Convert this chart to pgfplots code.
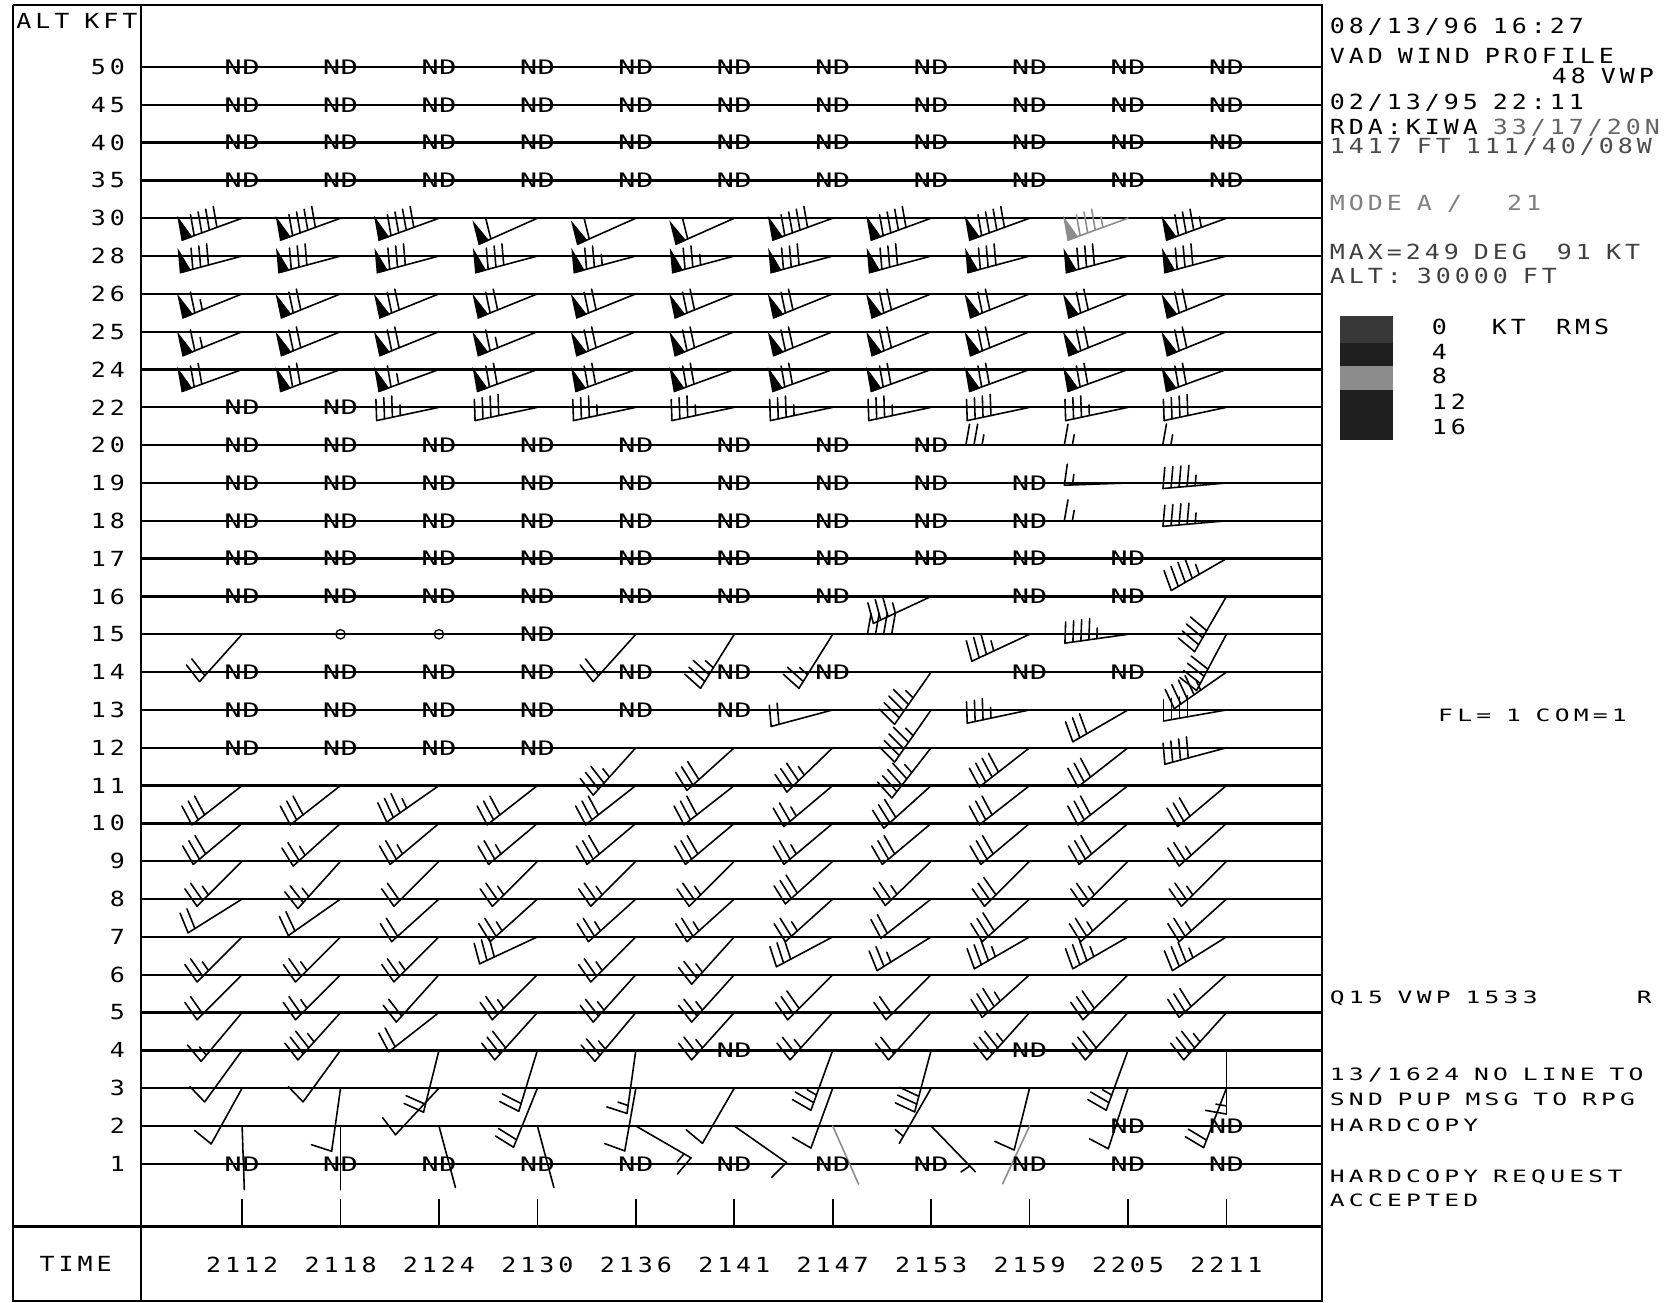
\documentclass[border=0pt]{standalone}
\usepackage{pgfplots}
\pgfplotsset{compat=1.18}
\usepackage{pgfplotstable}
\usepackage{fontspec}
\newfontfamily\plotfont[FakeStretch=1.2,LetterSpace=19]{DejaVu Sans Mono}
\newfontfamily\plotfontb[FakeStretch=1.45,LetterSpace=25]{DejaVu Sans Mono}
\newfontfamily\plotfontnd[FakeStretch=1.45,LetterSpace=2]{DejaVu Sans Mono}
\newcommand\pf{\plotfont\fontsize{9.8}{11}\selectfont}
\newcommand\pfb{\plotfontb\fontsize{8}{9}\selectfont}
\newcommand\ndf{\plotfontnd\fontsize{9.4}{10}\selectfont}
\newcommand\spc{\hphantom{0}}

\newcommand\barbL{30}
\newcommand\barbF{10}
\newcommand\barbS{3.8}
\newcommand\barbP{4.5}
\newcommand\barbA{-100}

\pgfplotsset{
  barb/.style={
    only marks, scatter, mark=*, mark size=0pt,
    visualization depends on={\thisrow{dir}\as\wdir},
    visualization depends on={\thisrow{spd}\as\wspd},
    scatter/@pre marker code/.code={%
      \pgfmathsetmacro\bang{90-\wdir}%
      \pgfmathsetmacro\fang{90-\wdir+\barbA}%
      \pgfmathtruncatemacro\bsp{5*round(\wspd/5)}%
      \pgfmathtruncatemacro\bnp{floor(\bsp/50)}%
      \pgfmathtruncatemacro\bnf{floor((\bsp-50*\bnp)/10)}%
      \pgfmathtruncatemacro\bnh{\bsp-50*\bnp-10*\bnf}%
      \begin{scope}[line width=0.75pt, line cap=round, draw=#1, fill=#1]
        \draw (0pt,0pt) -- (\bang:\barbL pt);
        \ifnum\bnp>0
          \foreach \k in {1,...,\bnp}{%
            \pgfmathsetmacro\q{\barbL-(\k-1)*\barbP}%
            \pgfmathsetmacro\qq{\q-\barbP}%
            \fill (\bang:\q pt) -- ++(\fang:\barbF pt) -- (\bang:\qq pt) -- cycle;
          }%
        \fi
        \pgfmathsetmacro\qs{\barbL-\bnp*\barbP-(\bnp>0?1.5:0)}%
        \ifnum\bnf>0
          \foreach \k in {1,...,\bnf}{%
            \pgfmathsetmacro\q{\qs-(\k-1)*\barbS}%
            \draw (\bang:\q pt) -- ++(\fang:\barbF pt);
          }%
        \fi
        \ifnum\bnh>0
          \pgfmathsetmacro\q{\qs-\bnf*\barbS-(\bnf+\bnp>0?0:\barbS)}%
          \pgfmathsetmacro\hf{0.5*\barbF}%
          \draw (\bang:\q pt) -- ++(\fang:\hf pt);
        \fi
      \end{scope}
    },
    scatter/@post marker code/.code={},
  },
}

\pgfplotstableread{
c lev dir spd
0 25 250 90
1 25 250 90
2 25 250 90
3 25 246 60
4 25 246 60
5 25 246 60
6 25 250 90
7 25 250 90
8 25 250 90
10 25 250 85
0 24 255 80
1 24 255 80
2 24 255 80
3 24 255 80
4 24 255 75
5 24 255 75
6 24 255 80
7 24 255 80
8 24 255 80
9 24 255 80
10 24 255 80
0 23 248 65
1 23 248 70
2 23 248 70
3 23 248 70
4 23 248 70
5 23 248 70
6 23 248 70
7 23 248 70
8 23 248 70
9 23 248 70
10 23 248 70
0 22 248 65
1 22 248 70
2 22 248 70
3 22 248 65
4 22 248 70
5 22 248 70
6 22 248 70
7 22 248 70
8 22 248 70
9 22 248 70
10 22 248 70
0 21 250 70
1 21 250 70
2 21 250 65
3 21 250 70
4 21 250 70
5 21 250 70
6 21 250 70
7 21 250 70
8 21 250 70
9 21 250 70
10 21 250 70
2 20 258 35
3 20 258 40
4 20 258 35
5 20 258 35
6 20 258 35
7 20 258 35
8 20 258 40
9 20 258 35
10 20 258 40
8 19 270 25
9 19 270 15
10 19 270 15
9 18 268 15
10 18 265 45
9 17 270 15
10 17 265 45
10 16 240 45
7 15 245 35
10 15 210 40
0 14 222 20
4 14 222 20
5 14 212 35
6 14 212 25
7 14 270 40
8 14 245 35
9 14 262 45
10 14 208 40
7 13 215 45
10 13 235 45
6 12 255 20
7 12 215 45
8 12 258 35
9 12 240 30
10 12 260 40
4 11 222 35
5 11 228 30
6 11 226 35
7 11 218 45
8 11 232 40
9 11 232 30
10 11 255 40
0 10 232 30
1 10 232 30
2 10 235 35
3 10 232 30
4 10 232 30
5 10 232 30
6 10 230 25
7 10 228 30
8 10 232 30
9 10 232 30
10 10 230 30
0 9 230 30
1 9 228 25
2 9 230 25
3 9 230 25
4 9 230 30
5 9 230 30
6 9 230 25
7 9 230 30
8 9 230 30
9 9 230 30
10 9 228 25
0 8 225 25
1 8 222 25
2 8 225 20
3 8 225 25
4 8 225 25
5 8 225 25
6 8 228 30
7 8 226 25
8 8 225 30
9 8 225 25
10 8 225 25
0 7 238 20
1 7 235 20
2 7 228 20
3 7 228 25
4 7 228 25
5 7 228 25
6 7 228 25
7 7 232 20
8 7 228 30
9 7 228 25
10 7 228 25
0 6 225 25
1 6 225 25
2 6 225 25
3 6 245 30
4 6 225 25
5 6 222 25
6 6 242 30
7 6 238 25
8 6 240 35
9 6 240 35
10 6 238 35
0 5 225 20
1 5 225 25
2 5 222 20
3 5 225 25
4 5 222 25
5 5 222 25
6 5 225 30
7 5 225 20
8 5 228 35
9 5 225 30
10 5 228 30
0 4 220 15
1 4 222 35
2 4 232 20
3 4 222 30
4 4 220 25
5 4 222 25
6 4 222 25
7 4 222 20
8 4 222 35
9 4 222 30
10 4 222 35
0 3 216 10
1 3 216 10
2 3 194 20
3 3 197 20
4 3 188 15
6 3 200 25
7 3 195 30
9 3 200 25
10 3 180 15
0 2 209 10
1 2 188 10
2 2 223 10
3 2 202 20
4 2 190 10
5 2 210 10
6 2 200 10
7 2 210 5
8 2 194 10
9 2 198 10
10 2 201 20
0 1 178 0
1 1 180 0
2 1 165 0
3 1 165 0
4 1 120 15
5 1 125 10
7 1 136 5
}\barbdata

\pgfplotstableread{
c lev dir spd
9 25 250 85
6 1 156 0
8 1 205 0
}\barbgray

\pgfplotstableread[row sep=\\]{
c lev\\
0 29\\ 1 29\\ 2 29\\ 3 29\\ 4 29\\ 5 29\\ 6 29\\ 7 29\\ 8 29\\ 9 29\\ 10 29\\
0 28\\ 1 28\\ 2 28\\ 3 28\\ 4 28\\ 5 28\\ 6 28\\ 7 28\\ 8 28\\ 9 28\\ 10 28\\
0 27\\ 1 27\\ 2 27\\ 3 27\\ 4 27\\ 5 27\\ 6 27\\ 7 27\\ 8 27\\ 9 27\\ 10 27\\
0 26\\ 1 26\\ 2 26\\ 3 26\\ 4 26\\ 5 26\\ 6 26\\ 7 26\\ 8 26\\ 9 26\\ 10 26\\
0 20\\ 1 20\\
0 19\\ 1 19\\ 2 19\\ 3 19\\ 4 19\\ 5 19\\ 6 19\\ 7 19\\
0 18\\ 1 18\\ 2 18\\ 3 18\\ 4 18\\ 5 18\\ 6 18\\ 7 18\\ 8 18\\
0 17\\ 1 17\\ 2 17\\ 3 17\\ 4 17\\ 5 17\\ 6 17\\ 7 17\\ 8 17\\
0 16\\ 1 16\\ 2 16\\ 3 16\\ 4 16\\ 5 16\\ 6 16\\ 7 16\\ 8 16\\ 9 16\\
0 15\\ 1 15\\ 2 15\\ 3 15\\ 4 15\\ 5 15\\ 6 15\\ 8 15\\ 9 15\\
3 14\\
0 13\\ 1 13\\ 2 13\\ 3 13\\ 4 13\\ 5 13\\ 6 13\\ 8 13\\ 9 13\\
0 12\\ 1 12\\ 2 12\\ 3 12\\ 4 12\\ 5 12\\
0 11\\ 1 11\\ 2 11\\ 3 11\\
5 3\\ 8 3\\
9 1\\ 10 1\\
0 0\\ 1 0\\ 2 0\\ 3 0\\ 4 0\\ 5 0\\ 6 0\\ 7 0\\ 8 0\\ 9 0\\ 10 0\\
}\nddata

\pgfplotstableread[row sep=\\]{
c lev\\
1 14\\ 2 14\\
}\calmdata

\begin{document}
\begin{tikzpicture}
\path[use as bounding box] (-66.5pt,-36pt) rectangle (717.5pt,577.5pt);
\begin{axis}[
  at={(0pt,0pt)}, anchor=south west,
  scale only axis, width=556pt, height=575pt,
  xmin=-1.0248, xmax=10.971, ymin=-1.656, ymax=30.629,
  xtick={0,...,10},
  xticklabels={2112,2118,2124,2130,2136,2141,2147,2153,2159,2205,2211},
  ytick={0,...,29},
  yticklabels={1,2,3,4,5,6,7,8,9,10,11,12,13,14,15,16,17,18,19,20,22,24,25,26,28,30,35,40,45,50},
  xtick pos=bottom, tick align=inside, major tick length=13pt,
  ytick style={draw=none},
  xtick style={black, line width=0.8pt},
  ymajorgrids, grid style={black, line width=1.1pt},
  axis line style={black, line width=1pt},
  xticklabel style={font=\pf, anchor=north, inner sep=0pt, yshift=-14pt},
  yticklabel style={font=\pf, anchor=east, inner sep=0pt, xshift=-7.5pt},
]
\addplot[barb=black] table[x=c, y=lev] {\barbdata};
\addplot[barb=black!45] table[x=c, y=lev] {\barbgray};
\addplot[only marks, mark=text, text mark={\ndf ND}] table[x=c, y=lev] {\nddata};
\addplot[only marks, mark=o, mark size=2.2pt, line width=0.6pt, black] table[x=c, y=lev] {\calmdata};
\end{axis}
% frame of the display
\draw[line width=1pt] (-60.5pt,575pt) -- (0pt,575pt);
\draw[line width=1pt] (-60.5pt,575pt) -- (-60.5pt,-35pt) -- (556pt,-35pt) -- (556pt,0pt);
\draw[line width=1pt] (-60.5pt,0pt) -- (0pt,0pt);
\draw[line width=1pt] (0pt,0pt) -- (0pt,-35pt);
% left column
\node[anchor=base west, inner sep=0pt, font=\pf] at (-59pt,564pt) {ALT\spc KFT};
\node[anchor=base west, inner sep=0pt, font=\pf] at (-48pt,-21pt) {TIME};
% right panel
\node[anchor=base west, inner sep=0pt, font=\pf] at (559.5pt,561.8pt) {08/13/96\spc16:27};
\node[anchor=base west, inner sep=0pt, font=\pf] at (559.5pt,547.7pt) {VAD\spc WIND\spc PROFILE};
\node[anchor=base east, inner sep=0pt, font=\pf] at (712.5pt,538.3pt) {48\spc VWP};
\node[anchor=base west, inner sep=0pt, font=\pf] at (559.5pt,525.7pt) {02/13/95\spc22:11};
\node[anchor=base west, inner sep=0pt, font=\pf] at (559.5pt,514pt) {RDA:KIWA\spc\textcolor{black!60}{33/17/20N}};
\node[anchor=base west, inner sep=0pt, font=\pf, text=black!70] at (559.5pt,505.3pt) {1417\spc FT\spc111/40/08W};
\node[anchor=base west, inner sep=0pt, font=\pf, text=black!50] at (559.5pt,478.6pt) {MODE\spc A\spc/\spc\spc\spc21};
\node[anchor=base west, inner sep=0pt, font=\pf, text=black!75] at (559.5pt,455.1pt) {MAX=249\spc DEG\spc\spc91\spc KT};
\node[anchor=base west, inner sep=0pt, font=\pf, text=black!75] at (559.5pt,444.1pt) {ALT:\spc30000\spc FT};
\fill[black!78] (564.5pt,428.5pt) rectangle (589.5pt,416pt);
\fill[black!88] (564.5pt,416pt) rectangle (589.5pt,405pt);
\fill[black!45] (564.5pt,405pt) rectangle (589.5pt,394pt);
\fill[black!88] (564.5pt,394pt) rectangle (589.5pt,370.5pt);
\node[anchor=base west, inner sep=0pt, font=\pf] at (607.5pt,419.8pt) {0\spc\spc\spc KT\spc\spc RMS};
\node[anchor=base west, inner sep=0pt, font=\pf] at (607.5pt,408pt) {4};
\node[anchor=base west, inner sep=0pt, font=\pf] at (607.5pt,397pt) {8};
\node[anchor=base west, inner sep=0pt, font=\pf] at (607.5pt,384.5pt) {12};
\node[anchor=base west, inner sep=0pt, font=\pf] at (607.5pt,372.7pt) {16};
\node[anchor=base west, inner sep=0pt, font=\pfb] at (610.5pt,238pt) {FL=\spc1\spc COM=1};
\node[anchor=base west, inner sep=0pt, font=\pfb] at (559.5pt,105pt) {Q15\spc VWP\spc1533};
\node[anchor=base west, inner sep=0pt, font=\pfb] at (704pt,105pt) {R};
\node[anchor=base west, inner sep=0pt, font=\pfb] at (559.5pt,68.5pt) {13/1624\spc NO\spc LINE\spc TO};
\node[anchor=base west, inner sep=0pt, font=\pfb] at (559.5pt,57pt) {SND\spc PUP\spc MSG\spc TO\spc RPG};
\node[anchor=base west, inner sep=0pt, font=\pfb] at (559.5pt,44.5pt) {HARDCOPY};
\node[anchor=base west, inner sep=0pt, font=\pfb] at (559.5pt,20.5pt) {HARDCOPY\spc REQUEST};
\node[anchor=base west, inner sep=0pt, font=\pfb] at (559.5pt,9.5pt) {ACCEPTED};
\end{tikzpicture}
\end{document}
